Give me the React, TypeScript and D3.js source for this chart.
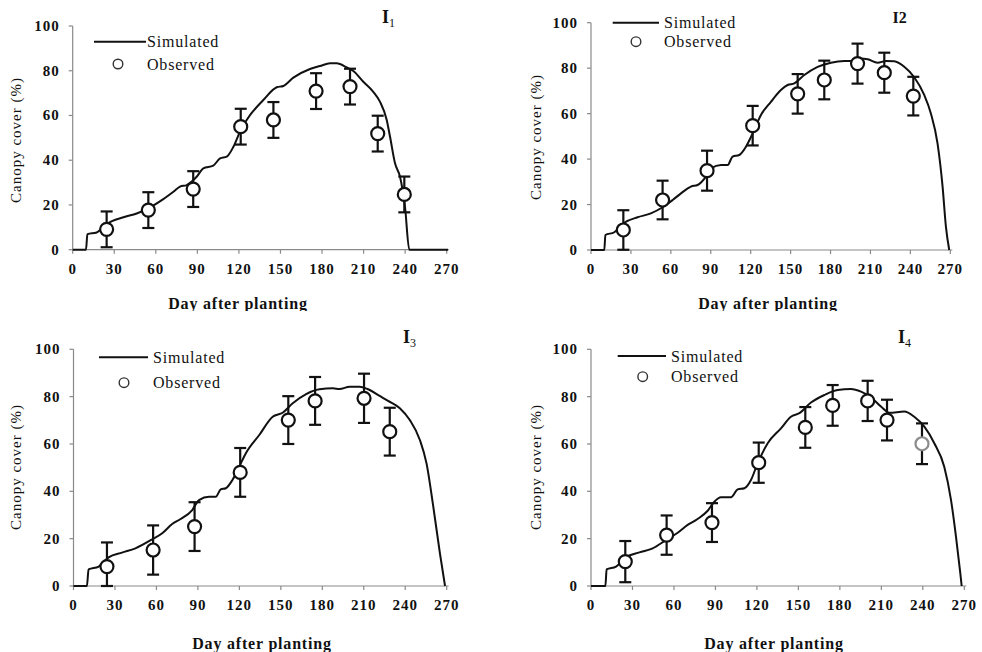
import React from "react";
import * as d3 from "d3";

// ---------- DATA ----------
const xTicks = [0, 30, 60, 90, 120, 150, 180, 210, 240, 270];
const yTicks = [0, 20, 40, 60, 80, 100];

// I1
const i1SimDay = [0, 9.6, 10.6, 17.3, 24.5, 36.6, 46.2, 54.6, 65.4, 72.7, 77.5, 82.3, 89.5, 94.3, 101.5, 106.4, 111.2, 116, 120.8, 125.6, 137.6, 147.3, 152.1, 159.3, 171.3, 178.5, 185.8, 190.6, 197.8, 202.6, 209.8, 217, 221.8, 226.7, 229.1, 232.7, 236.3, 239.9, 243, 271];
const i1SimCc = [0, 0, 6.9, 7.7, 11.5, 14.5, 16.2, 18.5, 22.6, 25.9, 28.2, 28.9, 32.6, 36.4, 37.6, 40.8, 41.6, 46, 52.8, 58, 66.9, 72.6, 73.2, 76.9, 80.8, 82.1, 83.3, 83.3, 81.5, 79.9, 75.1, 70.6, 66.2, 58, 50.5, 38.6, 32.6, 19.2, 0, 0];
const i1ObsDay = [24.5, 54.6, 87, 121.3, 144.9, 175.7, 200.2, 220.2, 239.4];
const i1ObsCc = [9.1, 17.7, 27.1, 55, 58, 70.9, 72.9, 51.9, 24.7];
const i1ObsSd = [8, 8, 8, 8, 8, 8, 8, 8, 8];

// I2
const i2SimDay = [0, 10, 10.8, 17.5, 25, 35, 45, 53.8, 61.4, 67.6, 75.1, 80.1, 86.4, 90.2, 97.7, 102.7, 106.4, 111.4, 116.5, 121.5, 127.7, 135.2, 142.7, 147.8, 152.8, 160.3, 170.3, 180.3, 190.3, 195.3, 202.9, 207.9, 215.4, 221.6, 227.9, 235.4, 242.9, 250.4, 255.4, 260.4, 264.2, 266.7, 269.2];
const i2SimCc = [0, 0, 6.6, 7.8, 12, 14.4, 16.1, 18.8, 22, 24.9, 27.9, 28.6, 32.3, 35.9, 37.4, 37.4, 41.1, 41.8, 45.5, 51.3, 59.4, 65.2, 70.4, 72.6, 73.3, 77, 80.6, 82.4, 83.1, 83.1, 84.3, 83.9, 82.4, 83.1, 83, 80.6, 76, 68.2, 60.1, 46.9, 27.9, 10.3, 0];
const i2ObsDay = [24.3, 53.8, 87.2, 121.5, 155.3, 175.3, 200.3, 220.4, 242.2];
const i2ObsCc = [8.8, 22, 34.9, 54.7, 68.7, 74.8, 82, 78, 67.7];
const i2ObsSd = [8.7, 8.5, 8.8, 8.7, 8.7, 8.5, 8.8, 8.8, 8.5];

// I3
const i3SimDay = [0, 9.7, 10.9, 18.2, 25.4, 35.1, 44.8, 56.9, 64.2, 71.4, 77.5, 85.9, 90.8, 98.1, 102.9, 106.5, 110.2, 115, 119.9, 124.7, 134.4, 144.1, 151.3, 158.6, 168.3, 178, 187.7, 192.5, 199.8, 207, 214.3, 221.5, 227.6, 236.1, 243.3, 250.6, 255.4, 260.3, 265.1, 268.8];
const i3SimCc = [0, 0, 7, 8.2, 12.1, 14.1, 15.9, 19.7, 22.3, 26.2, 28.3, 32.1, 36.3, 37.7, 37.7, 40.8, 41.3, 44.8, 50.4, 56.1, 63.8, 71.5, 73.2, 77.2, 81.1, 83.1, 83.5, 83.2, 84.2, 84.2, 82.8, 80.3, 78.2, 75.1, 70.1, 61.7, 51.8, 33.5, 13.8, 0];
const i3ObsDay = [24.2, 57.6, 87.6, 120.6, 155.4, 174.8, 210.2, 228.8];
const i3ObsCc = [8.2, 15.2, 25.1, 48, 70.1, 78.2, 79.3, 65.2];
const i3ObsSd = [10.2, 10.4, 10.3, 10.3, 10.1, 10.1, 10.4, 10.1];

// I4
const i4SimDay = [0, 10.4, 11.3, 18.1, 25.3, 35, 44.6, 54.2, 62.7, 69.9, 77.1, 84.4, 89.2, 94, 101.3, 106.1, 110.9, 115.7, 120.5, 127.8, 137.4, 144.6, 150.7, 159.1, 168.8, 178.4, 188, 195.3, 202.5, 209.7, 215.8, 226.6, 233.8, 241.1, 248.3, 255.5, 260.4, 264, 267.1, 268.1];
const i4SimCc = [0, 0, 7, 8.2, 12.1, 14.2, 15.9, 19.4, 22.5, 25.8, 28.3, 31.8, 35.6, 37.5, 37.5, 40.8, 41.3, 44.8, 51.8, 60.3, 66.6, 71.5, 73, 77.5, 80.7, 82.8, 83.2, 82.1, 79.7, 75.8, 73.2, 73.7, 71.5, 67.3, 60.3, 50.4, 36.3, 20.8, 5.4, 0];
const i4ObsDay = [24.8, 54.7, 87.5, 121.3, 155, 174.8, 200.1, 214.1, 239.4];
const i4ObsCc = [10.3, 21.5, 26.8, 52.1, 67, 76.3, 78.2, 70.1, 60.1];
const i4ObsSd = [8.7, 8.3, 8.2, 8.5, 8.6, 8.6, 8.5, 8.6, 8.6];

const legendLabels = ["Simulated", "Observed"];
const xTitle = "Day after planting";
const yTitle = "Canopy cover (%)";

// ---------- LAYOUT ----------
type Panel = {
  title: string;
  sub: string;
  simDay: number[];
  simCc: number[];
  obsDay: number[];
  obsCc: number[];
  obsSd: number[];
  grayLast?: boolean;
  x0: number; x1: number; yTop: number; yBot: number;
  titleX: number; titleY: number; titleSize: number;
  legLine: [number, number, number];
  legTextX: number;
  legCircle: [number, number];
  yLab: [number, number];
  xLab: [number, number];
  clipY: number;
};

const panels: Panel[] = [
  {
    title: "I", sub: "1",
    simDay: i1SimDay, simCc: i1SimCc, obsDay: i1ObsDay, obsCc: i1ObsCc, obsSd: i1ObsSd,
    x0: 72.7, x1: 446.7, yTop: 26, yBot: 249.7,
    titleX: 382, titleY: 22.5, titleSize: 18,
    legLine: [94, 146, 41.7], legTextX: 147, legCircle: [118, 64],
    yLab: [16, 140], xLab: [238, 309], clipY: 311,
  },
  {
    title: "I2", sub: "",
    simDay: i2SimDay, simCc: i2SimCc, obsDay: i2ObsDay, obsCc: i2ObsCc, obsSd: i2ObsSd,
    x0: 591, x1: 950.3, yTop: 22.7, yBot: 250,
    titleX: 892.5, titleY: 23.3, titleSize: 16,
    legLine: [612.7, 659, 22.7], legTextX: 664, legCircle: [636, 41.7],
    yLab: [536, 137], xLab: [768, 309], clipY: 311,
  },
  {
    title: "I", sub: "3",
    simDay: i3SimDay, simCc: i3SimCc, obsDay: i3ObsDay, obsCc: i3ObsCc, obsSd: i3ObsSd,
    x0: 73.5, x1: 446.7, yTop: 349.3, yBot: 586,
    titleX: 403, titleY: 342.5, titleSize: 18,
    legLine: [99, 148, 357.3], legTextX: 153, legCircle: [124, 382.7],
    yLab: [16, 467], xLab: [262, 649], clipY: 652,
  },
  {
    title: "I", sub: "4",
    simDay: i4SimDay, simCc: i4SimCc, obsDay: i4ObsDay, obsCc: i4ObsCc, obsSd: i4ObsSd, grayLast: true,
    x0: 591, x1: 964.3, yTop: 349.3, yBot: 586,
    titleX: 898, titleY: 342.5, titleSize: 18,
    legLine: [617.7, 666, 356], legTextX: 671, legCircle: [642.7, 376.7],
    yLab: [536, 467], xLab: [774, 649], clipY: 652,
  },
];

const FONT = '"Liberation Serif", "Times New Roman", Times, "DejaVu Serif", serif';
const AXIS_COLOR = "#8a8a8a";
const serif = { fontFamily: FONT };

function PanelView({ p, idx }: { p: Panel; idx: number }) {
  const x = d3.scaleLinear().domain([0, 270]).range([p.x0, p.x1]);
  const y = d3.scaleLinear().domain([0, 100]).range([p.yBot, p.yTop]);
  const pts: [number, number][] = p.simDay.map((d, i) => [d, p.simCc[i]]);
  const line = d3
    .line<[number, number]>()
    .x((d) => x(d[0]))
    .y((d) => y(d[1]))
    .curve(d3.curveMonotoneX);
  const cap = 6;
  return (
    <g clipPath={`url(#clip${idx})`}>
      <defs>
        <clipPath id={`clip${idx}`}>
          <rect x={0} y={0} width={982} height={p.clipY} />
        </clipPath>
      </defs>
      {/* axes */}
      <line x1={x(0)} x2={x(270) + 2} y1={y(0)} y2={y(0)} stroke={AXIS_COLOR} strokeWidth={1.2} />
      <line x1={x(0)} x2={x(0)} y1={y(0)} y2={y(100)} stroke={AXIS_COLOR} strokeWidth={1.2} />
      {xTicks.map((t) => (
        <g key={"xt" + t}>
          <line x1={x(t)} x2={x(t)} y1={y(0)} y2={y(0) + 4} stroke={AXIS_COLOR} strokeWidth={1.2} />
          <text
            x={x(t)}
            y={y(0) + 24}
            textAnchor="middle"
            style={serif}
            fontWeight="bold"
            fontSize={15}
            letterSpacing={1}
            fill="#111"
          >
            {t}
          </text>
        </g>
      ))}
      {yTicks.map((t) => (
        <g key={"yt" + t}>
          <line x1={x(0) - 4} x2={x(0)} y1={y(t)} y2={y(t)} stroke={AXIS_COLOR} strokeWidth={1.2} />
          <text
            x={x(0) - 13}
            y={y(t) + 5}
            textAnchor="end"
            style={serif}
            fontWeight="bold"
            fontSize={15}
            letterSpacing={1}
            fill="#111"
          >
            {t}
          </text>
        </g>
      ))}
      {/* simulated curve */}
      <path d={line(pts) || ""} fill="none" stroke="#111" strokeWidth={2} strokeLinejoin="round" />
      {/* error bars */}
      {p.obsDay.map((d, i) => {
        const cx = x(d);
        const hi = y(p.obsCc[i] + p.obsSd[i]);
        const lo = y(Math.max(0, p.obsCc[i] - p.obsSd[i]));
        return (
          <g key={"eb" + i} stroke="#111" strokeWidth={2.2}>
            <line x1={cx} x2={cx} y1={hi} y2={lo} />
            <line x1={cx - cap} x2={cx + cap} y1={hi} y2={hi} />
            <line x1={cx - cap} x2={cx + cap} y1={lo} y2={lo} />
          </g>
        );
      })}
      {p.obsDay.map((d, i) => (
        <circle
          key={"c" + i}
          cx={x(d)}
          cy={y(p.obsCc[i])}
          r={6.5}
          fill="#fff"
          stroke={p.grayLast && i === p.obsDay.length - 1 ? "#8c8c8c" : "#111"}
          strokeWidth={2.2}
        />
      ))}
      {/* legend */}
      <line x1={p.legLine[0]} x2={p.legLine[1]} y1={p.legLine[2]} y2={p.legLine[2]} stroke="#111" strokeWidth={2} />
      <text x={p.legTextX} y={p.legLine[2] + 5.5} style={serif} fontSize={16} letterSpacing={0.8} fill="#111">
        {legendLabels[0]}
      </text>
      <circle cx={p.legCircle[0]} cy={p.legCircle[1]} r={4.8} fill="#fff" stroke="#333" strokeWidth={1.4} />
      <text x={p.legTextX} y={p.legCircle[1] + 5.5} style={serif} fontSize={16} letterSpacing={0.8} fill="#111">
        {legendLabels[1]}
      </text>
      {/* title */}
      <text x={p.titleX} y={p.titleY} style={serif} fontWeight="bold" fontSize={p.titleSize} fill="#111">
        {p.title}
        {p.sub && (
          <tspan fontSize={12} fontWeight="normal" dy={4}>
            {p.sub}
          </tspan>
        )}
      </text>
      {/* axis titles */}
      <text
        transform={`translate(${p.yLab[0] + 5},${p.yLab[1]}) rotate(-90)`}
        textAnchor="middle"
        style={serif}
        fontSize={15}
        letterSpacing={1}
        fill="#111"
      >
        {yTitle}
      </text>
      <text
        x={p.xLab[0]}
        y={p.xLab[1]}
        textAnchor="middle"
        style={serif}
        fontWeight="bold"
        fontSize={16}
        letterSpacing={0.8}
        fill="#111"
      >
        {xTitle}
      </text>
    </g>
  );
}

export default function App() {
  return (
    <svg
      width={982}
      height={652}
      style={{ position: "absolute", left: 0, top: 0, background: "#fff" }}
    >
      <rect x={0} y={0} width={982} height={652} fill="#fff" />
      {panels.map((p, i) => (
        <PanelView key={i} p={p} idx={i} />
      ))}
    </svg>
  );
}
